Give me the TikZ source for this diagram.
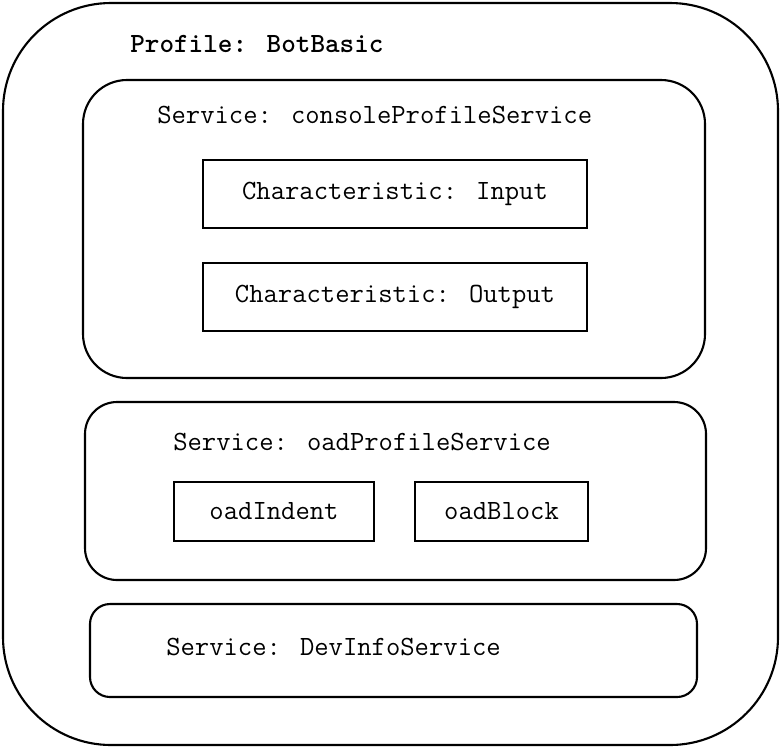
\documentclass[tikz,border=0pt]{standalone}
\usepackage{fontspec}
\begin{document}
\begin{tikzpicture}[
  box/.style={draw, line width=1.5pt, minimum width=#1, inner sep=0pt},
  svc/.style={draw, line width=1.5pt, inner sep=0pt},
  label/.style={anchor=west, inner sep=0pt, font=\ttfamily\fontsize{19.8}{22}\selectfont},
  inside/.style={font=\ttfamily\fontsize{19.8}{22}\selectfont}
]
\useasboundingbox (0,0) rectangle (19.525,-18.7);
% profile frame
\node[svc, rounded corners=2.7cm, minimum width=19.375cm, minimum height=18.55cm] (profile) at (9.7625,-9.35) {};
\node[label, font=\ttfamily\bfseries\fontsize{19.8}{22}\selectfont] (profname) at (3.25,-1.1) {Profile: BotBasic};
% console service
\node[svc, rounded corners=1.1cm, minimum width=15.55cm, minimum height=7.45cm] (console) at (9.85,-5.725) {};
\node[label] (consolename) at (3.925,-2.875) {Service: consoleProfileService};
\node[box=9.6cm, minimum height=1.7cm, inside] (input) at (9.875,-4.85) {Characteristic: Input};
\node[box=9.6cm, minimum height=1.7cm, inside] (output) at (9.875,-7.425) {Characteristic: Output};
% oad service
\node[svc, rounded corners=0.8cm, minimum width=15.525cm, minimum height=4.45cm] (oad) at (9.8875,-12.275) {};
\node[label] (oadname) at (4.325,-11.05) {Service: oadProfileService};
\node[box=5cm, minimum height=1.475cm, inside] (indent) at (6.85,-12.7875) {oadIndent};
\node[box=4.325cm, minimum height=1.475cm, inside] (block) at (12.5375,-12.7875) {oadBlock};
% device info service
\node[svc, rounded corners=0.5cm, minimum width=15.175cm, minimum height=2.325cm] (devinfo) at (9.8375,-16.2625) {};
\node[label] (devinfoname) at (4.15,-16.175) {Service: DevInfoService};
\end{tikzpicture}
\end{document}
